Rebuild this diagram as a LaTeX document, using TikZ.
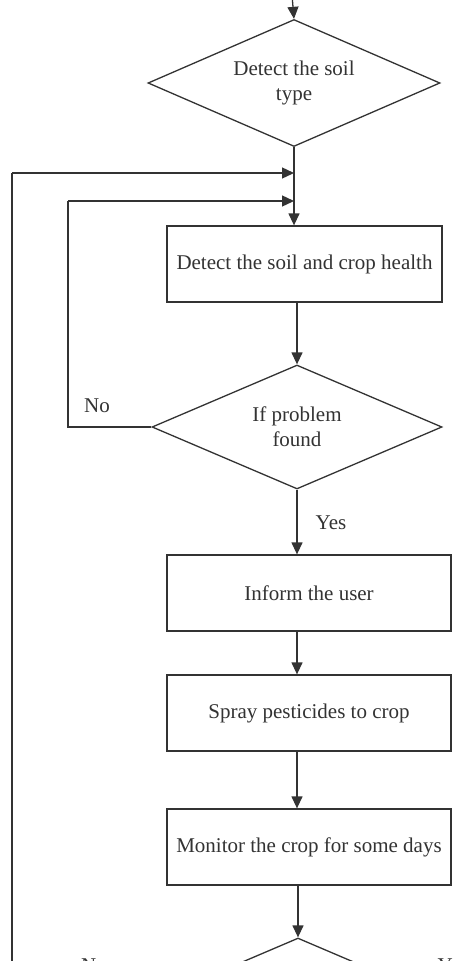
\documentclass[tikz,border=0pt]{standalone}
\usepackage{fontspec}
\setmainfont{Liberation Serif}
\usetikzlibrary{shapes.geometric,arrows.meta}
\definecolor{ink}{HTML}{333333}
\tikzset{
  every node/.style={text=ink},
  txt/.style={font=\fontsize{21}{25}\selectfont},
  procbox/.style={draw=ink, line width=1.3pt, rectangle, inner sep=0pt, txt},
  decbox/.style={draw=ink, line width=1.3pt, diamond, aspect=2.3, inner sep=0pt, align=center, txt},
  conn/.style={draw=ink, line width=1.3pt},
  arr/.style={conn, -{Triangle[length=12pt,width=11pt]}},
  lbl/.style={txt, inner sep=0pt}
}
\begin{document}
\begin{tikzpicture}[x=1pt,y=-1pt]
\useasboundingbox (0,0) rectangle (467,961);
\clip (0,0) rectangle (467,961);
\fill[white] (0,0) rectangle (467,961);

\coordinate (start) at (292,-5);
\node[decbox, minimum width=292pt, minimum height=127pt] (d1) at (294,83) {Detect the soil\\type};
\node[procbox, minimum width=275pt, minimum height=76pt] (b1) at (304.5,264) {Detect the soil and crop health};
\node[decbox, minimum width=290pt, minimum height=124pt] (d2) at (297,427) {If problem\\found};
\node[procbox, minimum width=284pt, minimum height=76pt] (b2) at (309,593) {Inform the user};
\node[procbox, minimum width=284pt, minimum height=76pt] (b3) at (309,713) {Spray pesticides to crop};
\node[procbox, minimum width=284pt, minimum height=76pt] (b4) at (309,847) {Monitor the crop for some days};
\node[decbox, minimum width=290pt, minimum height=124pt] (d3) at (298,1000) {};

\coordinate (m1) at (294,173);
\coordinate (m2) at (294,201);
\coordinate (l1) at (12,173);
\coordinate (l2) at (68,201);

\draw[arr] (start) -- (d1.north);
\draw[arr] (d1.south) -- (d1.south |- b1.north);
\draw[arr] (b1.south -| d2.north) -- (d2.north);
\draw[arr] (d2.south) -- (d2.south |- b2.north);
\draw[arr] (b2.south -| d2.south) -- (b3.north -| d2.south);
\draw[arr] (b3.south -| d2.south) -- (b4.north -| d2.south);
\draw[arr] (b4.south -| d3.north) -- (d3.north);

\draw[conn] (d2.west) -- (d2.west -| l2) -- (l2);
\draw[arr] (l2) -- (m2);
\draw[conn] (d3.west) -- (d3.west -| l1) -- (l1);
\draw[arr] (l1) -- (m1);

\node[lbl] (no1) at (97,406) {No};
\node[lbl] (yes1) at (331,523) {Yes};
\node[lbl] (no2) at (94,966) {No};
\node[lbl] (yes2) at (453,966) {Yes};
\end{tikzpicture}
\end{document}
